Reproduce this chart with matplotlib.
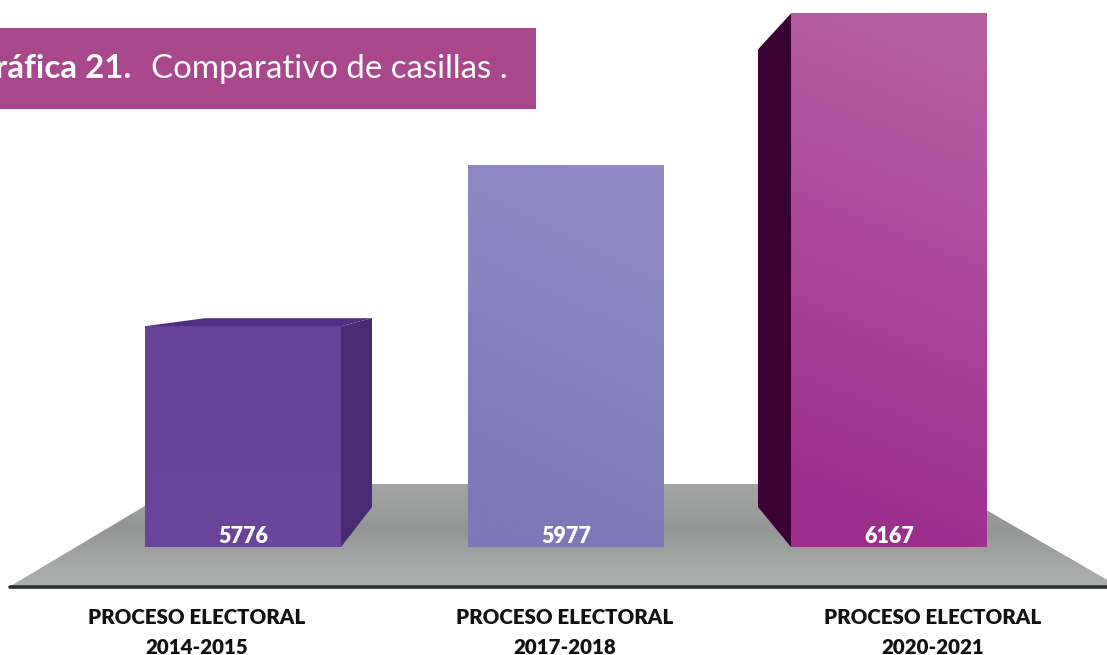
# comparativo de casillas, fake 3d bars on a grey floor

import matplotlib.pyplot as plt
from matplotlib.colors import LinearSegmentedColormap
from matplotlib.patches import Polygon
import numpy as np

categories = ['PROCESO ELECTORAL\n2014-2015', 'PROCESO ELECTORAL\n2017-2018', 'PROCESO ELECTORAL\n2020-2021']
casillas = [5776, 5977, 6167]
title_bold = 'Gráfica 21.'
title_rest = 'Comparativo de casillas .'

plt.rcParams['font.family'] = ['Lato', 'DejaVu Sans']

W, H = 1107, 655
fig = plt.figure(figsize=(W / 100, H / 100), dpi=100)

# background axes is in pixels, same coords as the picture
bg = fig.add_axes([0, 0, 1, 1])
bg.set_xlim(0, W)
bg.set_ylim(H, 0)
bg.axis('off')

# bars axes: 323 px between bars, 0.8 px per casilla, base at 5500
ax = fig.add_axes([0, 0, 1, 1])
ax.set_xlim(-243 / 323, (W - 243) / 323)
ax.set_ylim(5500 - (H - 547) / 0.8, 5500 + 547 / 0.8)
ax.axis('off')
ax.patch.set_alpha(0)
px = 1 / 323
py = 1 / 0.8


def fill_gradient(axis, patch, colors, extent, angle=0.0, zorder=2):
    # vertical gradient clipped to the patch, angle tilts it sideways
    yy, xx = np.mgrid[0:1:200j, 0:1:200j]
    img = np.clip(yy + angle * (0.5 - xx), 0, 1)
    cmap = LinearSegmentedColormap.from_list('g', colors)
    im = axis.imshow(img, cmap=cmap, extent=extent, origin='upper', aspect='auto',
                     vmin=0, vmax=1, zorder=zorder, interpolation='bilinear')
    im.set_clip_path(patch)


# floor
floor = Polygon([(11, 586), (182, 484), (941, 484), (1107, 580), (1107, 586)], closed=True,
                facecolor='#9a9c9c', edgecolor='none', zorder=1)
bg.add_patch(floor)
fill_gradient(bg, floor, [(0, '#a2a5a4'), (0.45, '#949696'), (0.85, '#a9abab'), (1, '#acaeae')],
              (0, W, 586, 484), zorder=1)
bg.set_xlim(0, W)
bg.set_ylim(H, 0)
bg.plot([10, W], [586.5, 586.5], color='#2f3232', lw=2.6, solid_capstyle='round', zorder=3)

# title band
bg.fill_between([0, 536], 28, 109, color='#a9478c', lw=0, zorder=4)
bg.text(131, 68.5, title_bold, color='white', fontsize=23.8, fontweight='bold',
        ha='right', va='center', zorder=5)
bg.text(151, 68.5, title_rest, color='white', fontsize=23.8, fontweight='normal',
        ha='left', va='center', zorder=5)

# bars
bar_colors = ['#6a459b', '#8a84c0', '#a63c93']
bar_grads = [['#674298', '#6a459b'],
             [(0, '#918ac4'), (0.5, '#8782bf'), (1, '#7f77b8')],
             [(0, '#b55fa3'), (0.5, '#ab4599'), (1, '#9b2d8c')]]
xpos = np.arange(len(casillas))
bars = ax.bar(xpos, np.array(casillas) - 5500, bottom=5500, width=196 * px, color=bar_colors,
              edgecolor='none', zorder=2)
for b, grad, angle in zip(bars, bar_grads, [0.0, 0.25, 0.15]):
    x0 = b.get_x()
    x1 = x0 + b.get_width()
    y0 = b.get_y()
    y1 = y0 + b.get_height()
    fill_gradient(ax, b, grad, (x0, x1, y0, y1), angle=angle)
ax.set_xlim(-243 / 323, (W - 243) / 323)
ax.set_ylim(5500 - (H - 547) / 0.8, 5500 + 547 / 0.8)

# first bar: top and right side
r = bars[0].get_x() + bars[0].get_width()
l = bars[0].get_x()
top = casillas[0]
ax.add_patch(Polygon([(r, top), (r + 31 * px, top + 8 * py), (r + 31 * px, 5500 + 40 * py), (r, 5500)],
                     closed=True, facecolor='#4a2a70', edgecolor='none', zorder=3))
ax.add_patch(Polygon([(l, top), (l + 60 * px, top + 8 * py), (r + 31 * px, top + 8 * py), (r, top)],
                     closed=True, facecolor='#512d85', edgecolor='none', zorder=3))

# third bar: left side
l = bars[2].get_x()
top = casillas[2]
ax.add_patch(Polygon([(l, top), (l - 33 * px, top - 36 * py), (l - 33 * px, 5500 + 40 * py), (l, 5500)],
                     closed=True, facecolor='#3a0033', edgecolor='none', zorder=3))

# values inside the bars, near the base
for x, v in zip(xpos, casillas):
    ax.text(x, 5500 + 10.5 * py, str(v), color='white', fontsize=15.5, fontweight='heavy',
            ha='center', va='center', zorder=6)

# category labels are spaced wider than the bars
for i, c in enumerate(categories):
    first, second = c.split('\n')
    bg.text(197 + 368 * i, 617.5, first, color='#111111', fontsize=14.8, fontweight='heavy',
            ha='center', va='center', zorder=5)
    bg.text(197 + 368 * i, 647, second, color='#111111', fontsize=14.8, fontweight='heavy',
            ha='center', va='center', zorder=5)

fig.savefig('out.png', dpi=100)
